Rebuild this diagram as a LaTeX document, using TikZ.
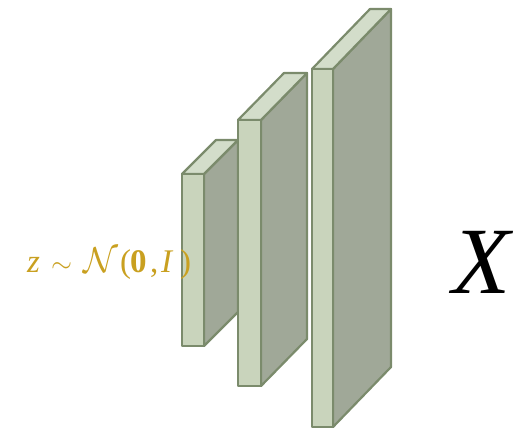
\documentclass[tikz,border=0pt]{standalone}
\usepackage{fix-cm}
\usepackage{fontspec}
\newfontfamily\timesfont{Liberation Serif}
\definecolor{frontc}{HTML}{C9D4BC}
\definecolor{sidec}{HTML}{A0A898}
\definecolor{topc}{HTML}{D3DDCA}
\definecolor{edgec}{HTML}{7B8B6C}
\definecolor{goldc}{HTML}{C9A020}
\tikzset{
  slabline/.style={draw=edgec, line width=2.2pt, line join=round},
  labeltext/.style={text=goldc, inner sep=0pt, font=\timesfont\fontsize{33}{36}\selectfont},
  bigx/.style={inner sep=0pt, font=\timesfont\itshape\fontsize{95}{100}\selectfont}
}
\newcommand\gbox[2]{\makebox[#1pt][l]{#2}}
% #1 x-left, #2 x-right, #3 y-top, #4 y-bottom, #5 dx, #6 dy
\newcommand\myslab[6]{%
  \path[slabline, fill=sidec] (#2,#3) -- ++(#5,-#6) -- (#2+#5,#4-#6) -- (#2,#4) -- cycle;
  \path[slabline, fill=topc] (#1,#3) -- ++(#5,-#6) -- (#2+#5,#3-#6) -- (#2,#3) -- cycle;
  \path[slabline, fill=frontc] (#1,#3) rectangle (#2,#4);
}
\begin{document}
\begin{tikzpicture}[x=1pt,y=-1pt]
  \useasboundingbox (0,0) rectangle (519,429);
  \myslab{182}{204}{174}{346}{34}{34}
  \myslab{238}{261}{120}{386}{46}{47}
  \myslab{312}{333}{69}{427}{58}{60}
  \node[labeltext, anchor=base west] (z) at (27,272)
    {\gbox{24}{\itshape z}\gbox{32}{\fontsize{27}{27}\selectfont$\sim$}\gbox{37}{\fontsize{36}{36}\selectfont$\mathcal{N}$}\gbox{10}{(}\gbox{20}{\bfseries 0}\gbox{11}{,}\gbox{19}{\itshape I})};
  \node[bigx, anchor=base] (x) at (482,293) {X};
\end{tikzpicture}
\end{document}
